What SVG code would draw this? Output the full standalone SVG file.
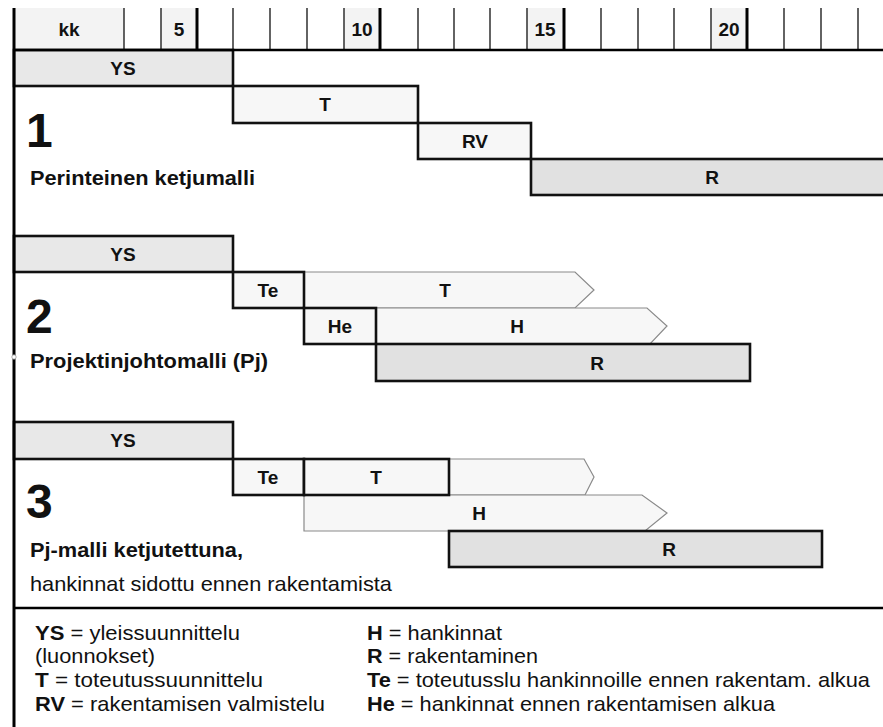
<svg xmlns="http://www.w3.org/2000/svg" width="883" height="727" viewBox="0 0 883 727">
  <style>
    text { font-family: "Liberation Sans", Arial, sans-serif; fill: #111; }
    .lbl { font-size: 19px; font-weight: bold; text-anchor: middle; }
    .num { font-size: 48px; font-weight: bold; }
    .ttl { font-size: 21px; font-weight: bold; }
    .sub { font-size: 21px; }
    .leg { font-size: 21px; }
    .leg tspan.b { font-weight: bold; }
    .box { stroke: #111; stroke-width: 2.6; }
    .ys { fill: #e8e8e8; }
    .pale { fill: #f7f7f7; }
    .r { fill: #e1e1e1; }
    .arrow { fill: #f7f7f7; stroke: #8a8a8a; stroke-width: 1.2; }
    .tick { stroke: #222; stroke-width: 1.4; }
    .tick.major { stroke: #000; stroke-width: 3; }
    .cell { fill: #f3f3f3; }
  </style>

  <rect x="0" y="0" width="883" height="727" fill="#ffffff"/>

  <!-- week ruler -->
  <g id="ruler">
    <rect class="cell" x="14" y="8" width="110" height="42"/>
    <rect class="cell" x="161" y="8" width="36" height="42"/>
    <rect class="cell" x="344" y="8" width="36" height="42"/>
    <rect class="cell" x="527" y="8" width="37" height="42"/>
    <rect class="cell" x="711" y="8" width="36" height="42"/>
    <line class="tick" x1="124" y1="8" x2="124" y2="50"/>
    <line class="tick" x1="161" y1="8" x2="161" y2="50"/>
    <line class="tick major" x1="197" y1="8" x2="197" y2="50"/>
    <line class="tick" x1="233" y1="8" x2="233" y2="50"/>
    <line class="tick" x1="270" y1="8" x2="270" y2="50"/>
    <line class="tick" x1="307" y1="8" x2="307" y2="50"/>
    <line class="tick" x1="344" y1="8" x2="344" y2="50"/>
    <line class="tick major" x1="380" y1="8" x2="380" y2="50"/>
    <line class="tick" x1="418" y1="8" x2="418" y2="50"/>
    <line class="tick" x1="454" y1="8" x2="454" y2="50"/>
    <line class="tick" x1="490" y1="8" x2="490" y2="50"/>
    <line class="tick" x1="527" y1="8" x2="527" y2="50"/>
    <line class="tick major" x1="564" y1="8" x2="564" y2="50"/>
    <line class="tick" x1="601" y1="8" x2="601" y2="50"/>
    <line class="tick" x1="638" y1="8" x2="638" y2="50"/>
    <line class="tick" x1="674" y1="8" x2="674" y2="50"/>
    <line class="tick" x1="711" y1="8" x2="711" y2="50"/>
    <line class="tick major" x1="747" y1="8" x2="747" y2="50"/>
    <line class="tick" x1="784" y1="8" x2="784" y2="50"/>
    <line class="tick" x1="821" y1="8" x2="821" y2="50"/>
    <line class="tick" x1="858" y1="8" x2="858" y2="50"/>
    <text class="lbl" x="69" y="36">kk</text>
    <text class="lbl" x="179" y="36">5</text>
    <text class="lbl" x="362" y="36">10</text>
    <text class="lbl" x="545" y="36">15</text>
    <text class="lbl" x="729" y="36">20</text>
  </g>

  <!-- model 1: traditional chain -->
  <g id="model1">
    <rect class="box ys" x="14" y="50" width="219" height="36"/>
    <rect class="box pale" x="233" y="86" width="185" height="37"/>
    <rect class="box pale" x="418" y="123" width="113" height="36"/>
    <rect class="box r" x="531" y="159" width="360" height="36"/>
    <text class="lbl" x="123" y="75">YS</text>
    <text class="lbl" x="325" y="111">T</text>
    <text class="lbl" x="475" y="148">RV</text>
    <text class="lbl" x="712" y="184">R</text>
    <text class="num" x="26" y="147">1</text>
    <text class="ttl" x="30" y="185" textLength="225" lengthAdjust="spacingAndGlyphs">Perinteinen ketjumalli</text>
  </g>

  <!-- model 2: project management -->
  <g id="model2">
    <polygon class="arrow" points="304,272 575,272 594,290 575,308 304,308"/>
    <polygon class="arrow" points="376,308 647,308 667,326 650,344 376,344"/>
    <rect class="box ys" x="14" y="236" width="219" height="36"/>
    <rect class="box pale" x="233" y="272" width="71" height="36"/>
    <rect class="box pale" x="304" y="308" width="72" height="36"/>
    <rect class="box r" x="376" y="344" width="374" height="37"/>
    <text class="lbl" x="123" y="261">YS</text>
    <text class="lbl" x="268" y="297">Te</text>
    <text class="lbl" x="445" y="297">T</text>
    <text class="lbl" x="340" y="333">He</text>
    <text class="lbl" x="517" y="333">H</text>
    <text class="lbl" x="597" y="370">R</text>
    <text class="num" x="26" y="333">2</text>
    <text class="ttl" x="30" y="368" textLength="238" lengthAdjust="spacingAndGlyphs">Projektinjohtomalli (Pj)</text>
  </g>

  <!-- model 3: chained project management -->
  <g id="model3">
    <polygon class="arrow" points="304,459 584,459 594,477 585,495 304,495"/>
    <polygon class="arrow" points="304,495 642,495 667,513 645,531 304,531"/>
    <rect class="box ys" x="14" y="422" width="219" height="37"/>
    <rect class="box pale" x="233" y="459" width="71" height="36"/>
    <rect class="box pale" x="304" y="459" width="145" height="36"/>
    <rect class="box r" x="449" y="531" width="373" height="36"/>
    <text class="lbl" x="123" y="447">YS</text>
    <text class="lbl" x="268" y="484">Te</text>
    <text class="lbl" x="376" y="484">T</text>
    <text class="lbl" x="479" y="520">H</text>
    <text class="lbl" x="669" y="556">R</text>
    <text class="num" x="26" y="518">3</text>
    <text class="ttl" x="30" y="557" textLength="213" lengthAdjust="spacingAndGlyphs">Pj-malli ketjutettuna,</text>
    <text class="sub" x="30" y="591" textLength="362" lengthAdjust="spacingAndGlyphs">hankinnat sidottu ennen rakentamista</text>
  </g>

  <!-- frame: left edge, ruler baseline, legend divider -->
  <g id="frame">
    <line x1="14" y1="8" x2="14" y2="727" stroke="#000" stroke-width="3"/>
    <line x1="14" y1="50" x2="883" y2="50" stroke="#000" stroke-width="2.6"/>
    <line x1="14" y1="608" x2="883" y2="608" stroke="#000" stroke-width="2.6"/>
    <circle cx="14" cy="357" r="2.2" fill="#fff" stroke="#999" stroke-width="0.8"/>
  </g>

  <!-- legend -->
  <g id="legend">
    <text class="leg" x="35" y="640" textLength="205" lengthAdjust="spacingAndGlyphs"><tspan class="b">YS</tspan> = yleissuunnittelu</text>
    <text class="leg" x="35" y="663" textLength="120" lengthAdjust="spacingAndGlyphs">(luonnokset)</text>
    <text class="leg" x="35" y="687" textLength="228" lengthAdjust="spacingAndGlyphs"><tspan class="b">T</tspan>  = toteutussuunnittelu</text>
    <text class="leg" x="35" y="711" textLength="290" lengthAdjust="spacingAndGlyphs"><tspan class="b">RV</tspan> = rakentamisen valmistelu</text>
    <text class="leg" x="367" y="640" textLength="135" lengthAdjust="spacingAndGlyphs"><tspan class="b">H</tspan> = hankinnat</text>
    <text class="leg" x="367" y="663" textLength="171" lengthAdjust="spacingAndGlyphs"><tspan class="b">R</tspan> = rakentaminen</text>
    <text class="leg" x="367" y="687" textLength="503" lengthAdjust="spacingAndGlyphs"><tspan class="b">Te</tspan> = toteutusslu hankinnoille ennen rakentam. alkua</text>
    <text class="leg" x="367" y="711" textLength="408" lengthAdjust="spacingAndGlyphs"><tspan class="b">He</tspan> = hankinnat ennen rakentamisen alkua</text>
  </g>
</svg>
